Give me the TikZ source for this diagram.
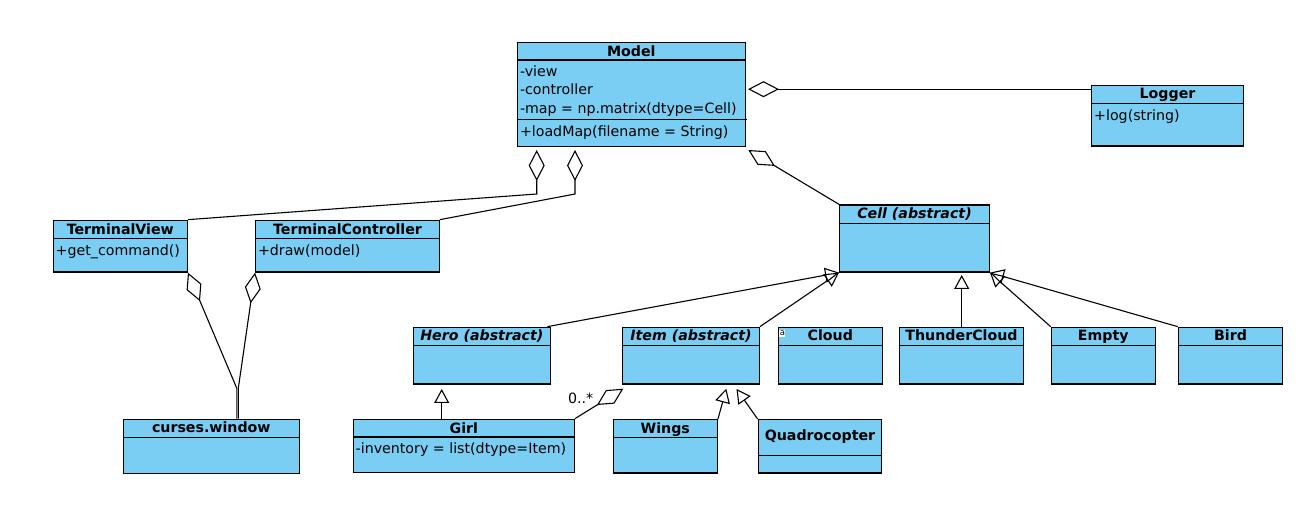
\documentclass[tikz,border=0pt]{standalone}
\usepackage{fontspec}
\setmainfont{DejaVu Sans}
\usetikzlibrary{arrows.meta,fit,calc}
\definecolor{clsfill}{RGB}{122,206,244}
\newcommand\umlcls[9]{%
  \node[clsbox, fit={(#2,#3) (#4,#5)}] (#1) {};
  \draw[sepline] (#2,#6) -- (#4,#6);
  \node[#7] (#1-h) at ({(#2+#4)/2},{#3+#9}) {#8};
}
\begin{document}
\begin{tikzpicture}[x=1pt,y=-1pt,
  clsbox/.style={draw=black, fill=clsfill, line width=1.3pt, inner sep=0pt},
  sepline/.style={line width=1.2pt},
  hdr/.style={font=\fontsize{14.2}{16}\selectfont\bfseries, inner sep=0pt, anchor=base},
  ahdr/.style={font=\fontsize{14.2}{16}\selectfont\bfseries\itshape, inner sep=0pt, anchor=base},
  attr/.style={font=\fontsize{14.2}{16}\selectfont, inner sep=0pt, anchor=base west},
  conn/.style={line width=1.1pt},
  aggr/.style={conn, -{Diamond[open, length=31pt, width=16pt]}},
  gen/.style={conn, -{Triangle[open, length=14pt, width=15pt]}},
]
\useasboundingbox (0,0) rectangle (1296,526);

% classes
\umlcls{model}{517.3}{42.7}{745.3}{146.3}{60}{hdr}{Model}{13.7}
\draw[sepline] (517.3,119.3) -- (746.7,119.3);
\node[attr] (model-a1) at (519.8,76.7) {-view};
\node[attr] (model-a2) at (519.8,95) {-controller};
\node[attr] (model-a3) at (519.8,113.4) {-map = np.matrix(dtype=Cell)};
\node[attr] (model-m1) at (519.8,136.7) {+loadMap(filename = String)};

\umlcls{logger}{1091.7}{85.7}{1243.3}{146}{103.7}{hdr}{Logger}{13.2}
\node[attr] (logger-m1) at (1094,120.2) {+log(string)};

\umlcls{tv}{53.3}{220.3}{187.3}{272}{238.7}{hdr}{TerminalView}{13.8}
\node[attr] (tv-m1) at (55.5,255.2) {+get\_command()};

\umlcls{tc}{255.7}{220.3}{439.3}{272}{238.7}{hdr}{TerminalController}{13.8}
\node[attr] (tc-m1) at (257.8,255.2) {+draw(model)};

\umlcls{cell}{839.7}{205}{989.3}{272}{223.3}{ahdr}{Cell (abstract)}{13.5}

\umlcls{hero}{413.3}{327.3}{550.3}{384}{345.3}{ahdr}{Hero (abstract)}{13.5}
\umlcls{item}{622.7}{327.3}{759.3}{384}{345.3}{ahdr}{Item (abstract)}{13.5}
\umlcls{cloud}{778.3}{327.3}{882.3}{384}{345.3}{hdr}{Cloud}{13.5}
\node[fill=white, inner sep=0pt, minimum width=6pt, minimum height=7pt,
      font=\fontsize{8.5}{8.5}\selectfont, anchor=north west] (cloud-icon) at (779.2,329.4) {a};
\umlcls{thunder}{899.3}{327.3}{1023.7}{384}{345.3}{hdr}{ThunderCloud}{13.5}
\umlcls{empty}{1051.3}{327.3}{1155.3}{384}{345.3}{hdr}{Empty}{13.5}
\umlcls{bird}{1178.3}{327.3}{1282.7}{384}{345.3}{hdr}{Bird}{13.5}

\umlcls{curses}{123.3}{419.3}{299.3}{473.3}{437.7}{hdr}{curses.window}{13.5}
\umlcls{girl}{353.3}{419.3}{574.3}{472.7}{437}{hdr}{Girl}{13.7}
\node[attr] (girl-a1) at (355.5,453.4) {-inventory = list(dtype=Item)};
\umlcls{wings}{613.3}{419.7}{717.3}{473}{437.3}{hdr}{Wings}{13.6}
\umlcls{quad}{758.3}{419.7}{881.7}{473}{455.3}{hdr}{Quadrocopter}{21.2}

% aggregations
\coordinate (mtv) at (536.7,150);
\coordinate (mtvb) at (536.7,194);
\draw[aggr] (tv.north east) -- (mtvb) -- (mtv);
\coordinate (mtc) at (575,150);
\coordinate (mtcb) at (575,194);
\draw[aggr] (tc.north east) -- (mtcb) -- (mtc);
\coordinate (mcl) at (748.3,150);
\draw[aggr] (cell.north west) -- (mcl);
\coordinate (mlg) at (748,89.2);
\draw[aggr] (logger.west |- mlg) -- (mlg);
\coordinate (cwj) at (236.8,388.3);
\draw[aggr] (cwj |- curses.north) -- (cwj) -- (tv.south east);
\coordinate (cwj2) at (238.3,388.3);
\draw[aggr] (cwj2 |- curses.north) -- (cwj2) -- (tc.south west);
\coordinate (gi) at (623.3,388.7);
\draw[aggr] (girl.north east) -- (gi);
\node[attr, anchor=base east] (mult) at (593.5,403.3) {0..*};

% generalizations
\draw[gen] ($(hero.north east)+(-3.6,0)$) -- (cell.south west);
\draw[gen] (item.north east) -- (cell.south west);
\coordinate (tcup) at (961.7,275);
\draw[gen] (tcup |- thunder.north) -- (tcup);
\draw[gen] (empty.north west) -- (cell.south east);
\draw[gen] (bird.north west) -- (cell.south east);
\coordinate (gh) at (441.7,389);
\draw[gen] (gh |- girl.north) -- (gh);
\coordinate (wi) at (726.3,388.7);
\draw[gen] (wings.north east) -- (wi);
\coordinate (qi) at (736.5,389);
\draw[gen] (quad.north west) -- (qi);
\end{tikzpicture}
\end{document}
